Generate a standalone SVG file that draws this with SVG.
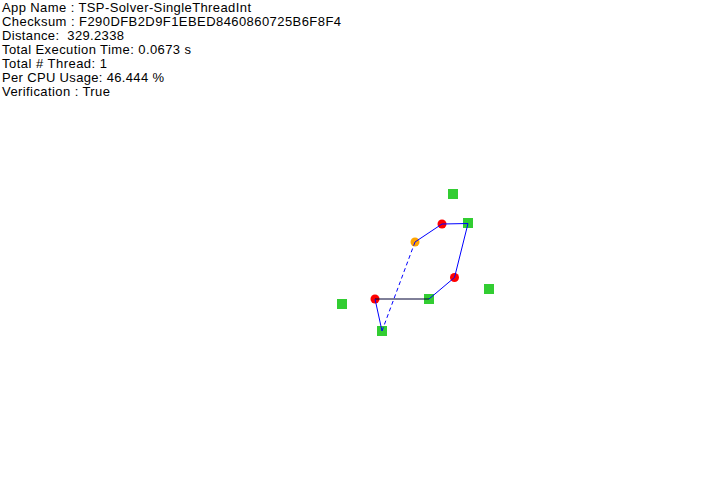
<svg xmlns="http://www.w3.org/2000/svg" width="726" height="500" viewBox="0 0 726 500">
<style>
text{font-family:"Liberation Sans",Arial,sans-serif;font-size:13px;fill:#000;white-space:pre}
.sq{fill:#32cd32}
.rd{fill:#ff0000}
.or{fill:#ffa500}
.ln{stroke:#0000ff;stroke-width:1;fill:none}
.dash{stroke-dasharray:4,3}
</style>
<rect width="726" height="500" fill="#fff"/>
<g id="info">
<text x="2" y="12" textLength="249">App Name : TSP-Solver-SingleThreadInt</text>
<text x="2" y="26" textLength="339">Checksum : F290DFB2D9F1EBED8460860725B6F8F4</text>
<text x="2" y="40" textLength="122" xml:space="preserve">Distance:  329.2338</text>
<text x="2" y="54" textLength="189">Total Execution Time: 0.0673 s</text>
<text x="2" y="68" textLength="105">Total # Thread: 1</text>
<text x="2" y="82" textLength="162">Per CPU Usage: 46.444 %</text>
<text x="2" y="96" textLength="108">Verification : True</text>
</g>
<g id="nodes">
<rect id="s1" class="sq" x="448" y="189" width="10" height="10"/>
<rect id="s2" class="sq" x="463" y="218" width="10" height="10"/>
<rect id="s3" class="sq" x="484" y="284" width="10" height="10"/>
<rect id="s4" class="sq" x="337" y="299" width="10" height="10"/>
<rect id="s5" class="sq" x="424" y="294" width="10" height="10"/>
<rect id="s6" class="sq" x="377" y="326" width="10" height="10"/>
<circle id="c1" class="rd" cx="442" cy="224" r="4.5"/>
<circle id="c2" class="rd" cx="454.5" cy="277.5" r="4.5"/>
<circle id="c3" class="rd" cx="375" cy="299" r="4.5"/>
<circle id="c4" class="or" cx="415" cy="242" r="4.5"/>
</g>
<g id="connectors">
<polyline class="ln" points="442,224 468,223.5 454.5,277.5 429,299"/>
<line x1="429" y1="299" x2="375" y2="299" stroke="#000033" stroke-width="1"/>
<polyline class="ln" points="375,299 382,331"/>
<line class="ln dash" x1="382" y1="331" x2="415" y2="242"/>
<line class="ln" x1="415" y1="242" x2="442" y2="224"/>
</g>
</svg>
